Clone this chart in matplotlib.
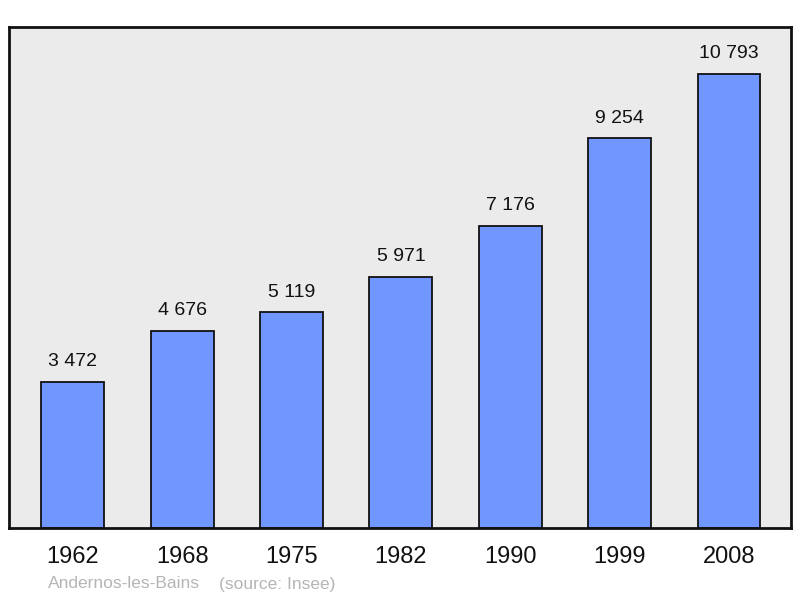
import matplotlib
matplotlib.use("Agg")
import matplotlib.pyplot as plt

years = ["1962", "1968", "1975", "1982", "1990", "1999", "2008"]
population = [3472, 4676, 5119, 5971, 7176, 9254, 10793]
value_labels = ["3 472", "4 676", "5 119", "5 971", "7 176", "9 254", "10 793"]
commune = "Andernos-les-Bains"
source = "(source: Insee)"

plt.rcParams['font.family'] = ['Liberation Sans', 'DejaVu Sans']

fig = plt.figure(figsize=(8.0, 5.98), dpi=100)
ax = fig.add_axes([9/800, 70/598, 782/800, 501/598])
ax.set_facecolor('#ebebeb')

x = list(range(len(years)))
ax.bar(x, population, width=0.576, color='#7096ff', edgecolor='#111111', linewidth=1.3, zorder=2)
for xi, v, lab in zip(x, population, value_labels):
    ax.annotate(lab, (xi, v), xytext=(0, 8.5), textcoords='offset points',
                ha='center', va='bottom', fontsize=14, color='#111111')

ax.set_xlim(-0.585, 6.567)
ax.set_ylim(0, 11900)
ax.set_xticks(x)
ax.set_xticklabels(years, fontsize=17, color='#111111')
ax.tick_params(axis='x', length=0, pad=13)
ax.set_yticks([])
for s in ax.spines.values():
    s.set_linewidth(2)
    s.set_color('#111111')

fig.text(48/800, 1 - 584/598, commune, fontsize=12.5, color='#b5b5b5', va='center', ha='left')
fig.text(219/800, 1 - 584/598, source, fontsize=12.5, color='#b5b5b5', va='center', ha='left')

fig.savefig('out.png', dpi=100, facecolor='white')
